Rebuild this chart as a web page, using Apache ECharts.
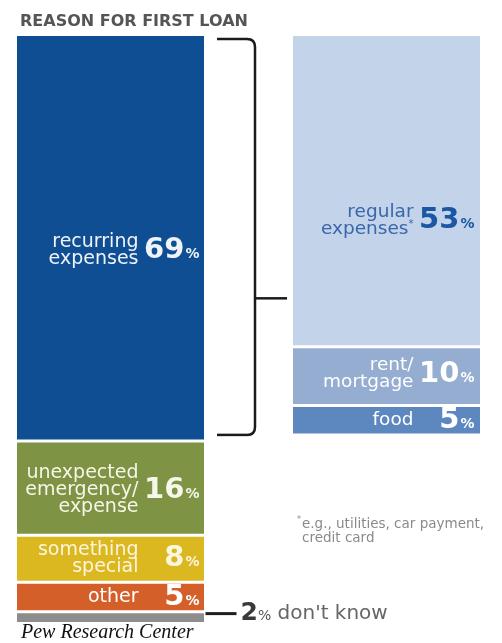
<!DOCTYPE html>
<html>
<head>
<meta charset="utf-8">
<script src="https://cdn.jsdelivr.net/npm/echarts@6/dist/echarts.min.js"></script>
<style>
html,body{margin:0;padding:0;background:#fff;}
#c{width:502px;height:643px;}
</style>
</head>
<body>
<div id="c"></div>
<script>
// ---- data ----
const titleText = 'REASON FOR FIRST LOAN';
const leftLabels = ['recurring\nexpenses', 'unexpected\nemergency/\nexpense', 'something\nspecial', 'other', "don't know"];
const leftValues = [69, 16, 8, 5, 2];
const rightLabels = ['regular\nexpenses*', 'rent/\nmortgage', 'food'];
const rightValues = [53, 10, 5];
const footnote = '*e.g., utilities, car payment,\ncredit card';
const sourceText = 'Pew Research Center';

// ---- styles ----
const FONT = 'DejaVu Sans';
const leftColors = ['#0f4e93', '#7e9343', '#dbb720', '#d55f29', '#8d8d8d'];
const leftTextColors = ['#f0f3f8', '#f6f6ea', '#fcf6de', '#ffffff', '#ffffff'];
const leftOffsets = [13, 2, 0, 0, 0];
const rightColors = ['#c3d3ea', '#94add1', '#5d88bf'];
const rightTextColors = ['#3867aa', '#ffffff', '#ffffff'];
const rightNumColors = ['#1c57a4', '#ffffff', '#ffffff'];
const rightOffsets = [30, -2, 0];

const G = {top: 34.5, height: 589};
const leftGrid = {left: 15.5, width: 190, top: G.top, height: G.height};
const rightGrid = {left: 291.5, width: 190, top: G.top, height: G.height};

function numFmt(v) { return '{n|' + v + '}{p|%}'; }
function textFmt(s) { return s.split('\n').map(l => l.indexOf('*') >= 0 ? l.replace('*', '') + '{s|*}' : l).join('\n'); }

const series = [];
function addStack(values, labels, colors, textColors, numColors, offsets, gi, textDist, numDist, fontSize) {
  values.forEach((v, i) => {
    const isDontKnow = gi === 0 && i === values.length - 1;
    series.push({
      type: 'bar', name: labels[i], stack: 's' + gi, xAxisIndex: gi, yAxisIndex: gi,
      barWidth: '100%', barGap: '-100%', data: [v],
      itemStyle: {color: colors[i], borderColor: '#ffffff', borderWidth: 1.5},
      label: isDontKnow ? {
        show: true, position: 'right', distance: 0, offset: [0, -4],
        formatter: '{d| }{n|' + v + '}{p|%}{t| don\'t know}',
        rich: {
          d: {width: 31, height: 3, backgroundColor: '#1e1e1e', fontSize: 3, lineHeight: 3},
          n: {fontFamily: FONT, fontSize: 25, fontWeight: 'bold', color: '#3a3a3a', padding: [0, 0, 0, 4]},
          p: {fontFamily: FONT, fontSize: 14, color: '#555555', padding: [6, 0, 0, 0]},
          t: {fontFamily: FONT, fontSize: 20, color: '#666666'}
        }
      } : {
        show: true, position: 'insideRight', distance: numDist, offset: [0, offsets[i]],
        formatter: numFmt(v),
        rich: {
          n: {fontFamily: FONT, fontSize: 29, fontWeight: 'bold', color: numColors[i]},
          p: {fontFamily: FONT, fontSize: 14, fontWeight: 'bold', color: numColors[i], padding: [8, 0, 0, 1]}
        }
      }
    });
  });
  // overlay of transparent bars carrying the category texts
  values.forEach((v, i) => {
    const isDontKnow = gi === 0 && i === values.length - 1;
    series.push({
      type: 'bar', name: labels[i] + ' text', stack: 't' + gi, xAxisIndex: gi, yAxisIndex: gi,
      barWidth: '100%', barGap: '-100%', data: [v], silent: true,
      itemStyle: {color: 'rgba(0,0,0,0)', borderWidth: 0},
      label: {
        show: !isDontKnow, position: 'insideRight', distance: textDist, offset: [0, offsets[i]],
        formatter: textFmt(labels[i]), align: 'right',
        fontFamily: FONT, fontSize: fontSize, lineHeight: 17, color: textColors[i],
        rich: {s: {fontFamily: FONT, fontSize: 10, color: textColors[i], padding: [0, 0, 9, 0]}}
      }
    });
  });
}
addStack(leftValues, leftLabels, leftColors, leftTextColors, leftTextColors, leftOffsets, 0, 67, 6, 19);
addStack(rightValues, rightLabels, rightColors, rightTextColors, rightNumColors, rightOffsets, 1, 68, 7, 18.5);

const chart = echarts.init(document.getElementById('c'), null, {renderer: 'canvas'});
chart.setOption({
  animation: false,
  backgroundColor: '#ffffff',
  title: {text: titleText, left: 15, top: 9, textStyle: {fontFamily: FONT, fontSize: 16, fontWeight: 'bold', color: '#555555'}},
  grid: [leftGrid, rightGrid],
  xAxis: [
    {type: 'category', gridIndex: 0, data: [''], show: false},
    {type: 'category', gridIndex: 1, data: [''], show: false}
  ],
  yAxis: [
    {type: 'value', gridIndex: 0, min: 0, max: 100, inverse: true, show: false},
    {type: 'value', gridIndex: 1, min: 0, max: 100, inverse: true, show: false}
  ],
  series: series
});

// bracket grouping the recurring-expenses segment with the right-hand breakdown
const yTop = chart.convertToPixel({yAxisIndex: 0}, 0) + 4.5;
const yBot = chart.convertToPixel({yAxisIndex: 0}, leftValues[0]) - 6;
const xStart = leftGrid.left + leftGrid.width + 11.5;
const xV = xStart + 38;
const xTip = rightGrid.left - 4.5;
const yMid = yTop + 0.655 * (yBot - yTop);
const r = 8;
const ls = {stroke: '#1a1a1a', lineWidth: 2.5, fill: null};
chart.setOption({
  graphic: [
    {type: 'line', shape: {x1: xStart, y1: yTop, x2: xV - r, y2: yTop}, style: ls},
    {type: 'bezierCurve', shape: {x1: xV - r, y1: yTop, cpx1: xV, cpy1: yTop, x2: xV, y2: yTop + r}, style: ls},
    {type: 'line', shape: {x1: xV, y1: yTop + r, x2: xV, y2: yBot - r}, style: ls},
    {type: 'bezierCurve', shape: {x1: xV, y1: yBot - r, cpx1: xV, cpy1: yBot, x2: xV - r, y2: yBot}, style: ls},
    {type: 'line', shape: {x1: xV - r, y1: yBot, x2: xStart, y2: yBot}, style: ls},
    {type: 'line', shape: {x1: xV, y1: yMid, x2: xTip, y2: yMid}, style: ls},
    {type: 'text', left: 302, top: 517, style: {text: footnote.replace('*', ''), fontFamily: FONT, fontSize: 13.5, lineHeight: 14, fill: '#8a8a8a'}},
    {type: 'text', left: 297, top: 516, style: {text: '*', fontFamily: FONT, fontSize: 8, fill: '#8a8a8a'}},
    {type: 'text', left: 21, top: 623, style: {text: sourceText, fontFamily: 'Liberation Serif', fontStyle: 'italic', fontSize: 20, fill: '#111111'}}
  ]
});
</script>
</body>
</html>
